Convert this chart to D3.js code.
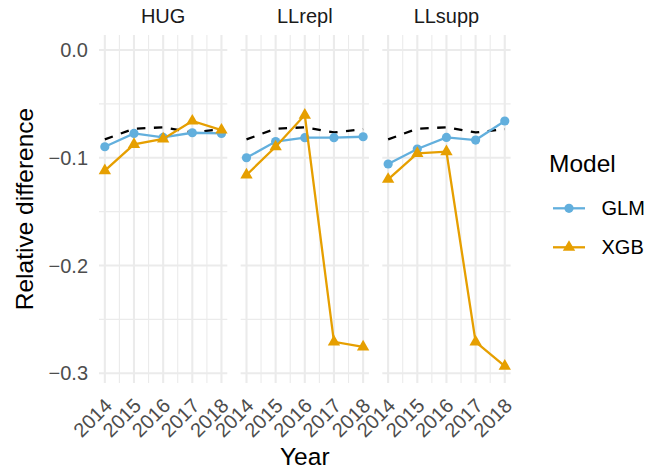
<!DOCTYPE html>
<html><head><meta charset="utf-8">
<script src="https://cdn.jsdelivr.net/npm/d3@7"></script>
<style>body{margin:0;background:#fff}svg{display:block;font-family:"Liberation Sans",Arial,sans-serif}</style>
</head><body>
<svg id="chart" width="660" height="472"></svg>
<script>
const years = [2014, 2015, 2016, 2017, 2018];
const panels = ["HUG", "LLrepl", "LLsupp"];
const models = ["GLM", "XGB"];
const baseline = [-0.0830, -0.0730, -0.0718, -0.0765, -0.0735];
const glmHUG = [-0.0898, -0.0774, -0.0811, -0.0768, -0.0774];
const glmLLrepl = [-0.1000, -0.0850, -0.0814, -0.0814, -0.0805];
const glmLLsupp = [-0.1058, -0.0919, -0.0811, -0.0836, -0.0659];
const xgbHUG = [-0.1120, -0.0876, -0.0826, -0.0659, -0.0743];
const xgbLLrepl = [-0.1160, -0.0898, -0.0604, -0.2708, -0.2755];
const xgbLLsupp = [-0.1200, -0.0959, -0.0944, -0.2708, -0.2934];
const yTicks = [0, -0.1, -0.2, -0.3];
const yMinor = [-0.05, -0.15, -0.25];
const yTickLabels = ["0.0", "\u22120.1", "\u22120.2", "\u22120.3"];
const colors = {GLM: "#62AFDD", XGB: "#E69F00"};

const seriesByPanel = {
  HUG: {GLM: glmHUG, XGB: xgbHUG},
  LLrepl: {GLM: glmLLrepl, XGB: xgbLLrepl},
  LLsupp: {GLM: glmLLsupp, XGB: xgbLLsupp}
};

const svg = d3.select("#chart");
const panelLeft = 99, panelW = 128.3, panelGap = 13.35;
const panelTop = 35, panelBottom = 383;
const y = d3.scaleLinear().domain([-0.309, 0.0139]).range([panelBottom, panelTop]);
const gridCol = "#ebebeb";
const tickCol = "#4d4d4d";
const smallFont = 20, bigFont = 24.5;
const lw = 2.3, ptR = 4.6, triSize = 66;

panels.forEach((p, i) => {
  const x0 = panelLeft + i * (panelW + panelGap);
  const x = d3.scaleLinear().domain([2013.8, 2018.2]).range([x0, x0 + panelW]);
  const g = svg.append("g");
  const xMinor = years.slice(0, -1).map(v => v + 0.5);
  g.selectAll(".ymn").data(yMinor).join("line")
    .attr("x1", x0).attr("x2", x0 + panelW)
    .attr("y1", d => y(d)).attr("y2", d => y(d))
    .attr("stroke", gridCol).attr("stroke-width", 1.1);
  g.selectAll(".xmn").data(xMinor).join("line")
    .attr("x1", d => x(d)).attr("x2", d => x(d))
    .attr("y1", panelTop).attr("y2", panelBottom)
    .attr("stroke", gridCol).attr("stroke-width", 1.1);
  g.selectAll(".ymj").data(yTicks).join("line")
    .attr("x1", x0).attr("x2", x0 + panelW)
    .attr("y1", d => y(d)).attr("y2", d => y(d))
    .attr("stroke", gridCol).attr("stroke-width", 2.1);
  g.selectAll(".xmj").data(years).join("line")
    .attr("x1", d => x(d)).attr("x2", d => x(d))
    .attr("y1", panelTop).attr("y2", panelBottom)
    .attr("stroke", gridCol).attr("stroke-width", 2.1);

  svg.append("text").attr("x", x0 + panelW / 2).attr("y", 22.5)
    .attr("text-anchor", "middle").attr("font-size", smallFont).attr("fill", "#1a1a1a").text(p);

  g.selectAll(".xt").data(years).join("text")
    .attr("transform", d => `translate(${x(d) + 8.5},${407}) rotate(-45)`)
    .attr("text-anchor", "end").attr("font-size", smallFont).attr("fill", tickCol)
    .text(d => d);

  const line = d3.line().x((d, j) => x(years[j])).y(d => y(d));
  g.append("path").attr("d", line(baseline)).attr("fill", "none")
    .attr("stroke", "#000").attr("stroke-width", lw).attr("stroke-dasharray", "8.5,8.5");

  models.forEach(m => {
    const vals = seriesByPanel[p][m];
    g.append("path").attr("d", line(vals)).attr("fill", "none")
      .attr("stroke", colors[m]).attr("stroke-width", lw);
    if (m === "GLM") {
      g.selectAll(".pg").data(vals).join("circle")
        .attr("cx", (d, j) => x(years[j])).attr("cy", d => y(d)).attr("r", ptR)
        .attr("fill", colors[m]);
    } else {
      const tri = d3.symbol().type(d3.symbolTriangle).size(triSize);
      g.selectAll(".px").data(vals).join("path")
        .attr("transform", (d, j) => `translate(${x(years[j])},${y(d)})`)
        .attr("d", tri()).attr("fill", colors[m]);
    }
  });
});

svg.selectAll(".yt").data(yTicks).join("text")
  .attr("x", 88).attr("y", d => y(d)).attr("dy", "0.35em")
  .attr("text-anchor", "end").attr("font-size", smallFont).attr("fill", tickCol)
  .text((d, i) => yTickLabels[i]);

svg.append("text").attr("transform", `translate(33,${(panelTop + panelBottom) / 2}) rotate(-90)`)
  .attr("text-anchor", "middle").attr("font-size", bigFont).attr("fill", "#000").text("Relative difference");
svg.append("text").attr("x", panelLeft + (3 * panelW + 2 * panelGap) / 2).attr("y", 465)
  .attr("text-anchor", "middle").attr("font-size", bigFont).attr("fill", "#000").text("Year");

const lg = svg.append("g");
lg.append("text").attr("x", 549).attr("y", 172).attr("font-size", bigFont).attr("fill", "#000").text("Model");
models.forEach((m, i) => {
  const cy = 208.3 + i * 39;
  lg.append("line").attr("x1", 553).attr("x2", 585).attr("y1", cy).attr("y2", cy)
    .attr("stroke", colors[m]).attr("stroke-width", lw);
  if (m === "GLM") {
    lg.append("circle").attr("cx", 569).attr("cy", cy).attr("r", ptR).attr("fill", colors[m]);
  } else {
    lg.append("path").attr("transform", `translate(569,${cy})`)
      .attr("d", d3.symbol().type(d3.symbolTriangle).size(triSize)()).attr("fill", colors[m]);
  }
  lg.append("text").attr("x", 601.5).attr("y", cy).attr("dy", "0.35em")
    .attr("font-size", smallFont).attr("fill", "#000").text(m);
});
</script>
</body></html>
